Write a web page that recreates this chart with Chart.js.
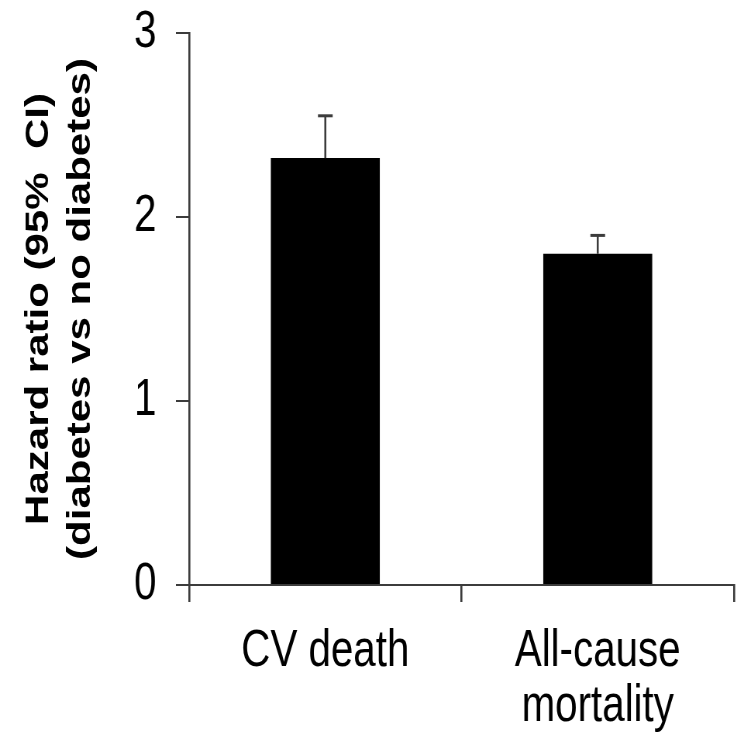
<!DOCTYPE html>
<html>
<head>
<meta charset="utf-8">
<script src="https://cdn.jsdelivr.net/npm/chart.js@4/dist/chart.umd.min.js"></script>
<style>
  html, body { margin: 0; padding: 0; background: #ffffff; overflow: hidden; }
  #wrap { width: 744px; height: 736px; position: relative; }
  /* the reference is a horizontally compressed picture: draw wide, display at 744px */
  #c { width: 744px; height: 736px; display: block; }
</style>
</head>
<body>
<div id="wrap"><canvas id="c" width="960" height="736" style="width:744px;height:736px"></canvas></div>
<script>
// ---- data ----
const categories = ["CV death", ["All-cause", "mortality"]];
const hazardRatio = [2.32, 1.80];
const ciUpper = [2.55, 1.90];
const yTicks = [0, 1, 2, 3];
const yTitle = ["Hazard ratio (95%  CI)", "(diabetes vs no diabetes)"];

const sans = "'Liberation Sans', Arial, Helvetica, sans-serif";
const axisColor = "#3c3c3c";

const errorBars = {
  id: "errorBars",
  afterDatasetsDraw(chart) {
    const ctx = chart.ctx;
    const meta = chart.getDatasetMeta(0);
    const y = chart.scales.y;
    ctx.save();
    ctx.strokeStyle = axisColor;
    meta.data.forEach((bar, i) => {
      const yb = y.getPixelForValue(hazardRatio[i]);
      const yt = y.getPixelForValue(ciUpper[i]);
      ctx.lineWidth = 2.6;
      ctx.beginPath();
      ctx.moveTo(bar.x, yb);
      ctx.lineTo(bar.x, yt);
      ctx.stroke();
      ctx.lineWidth = 3;
      ctx.beginPath();
      ctx.moveTo(bar.x - 9.5, yt);
      ctx.lineTo(bar.x + 9.5, yt);
      ctx.stroke();
    });
    ctx.restore();
  }
};

new Chart(document.getElementById("c"), {
  type: "bar",
  data: {
    labels: categories,
    datasets: [{
      data: hazardRatio,
      backgroundColor: "#000000",
      borderWidth: 0,
      categoryPercentage: 1.0,
      barPercentage: 0.4
    }]
  },
  options: {
    responsive: false,
    maintainAspectRatio: false,
    animation: false,
    devicePixelRatio: 1,
    layout: { padding: { top: 33, right: 13, left: 0, bottom: 0 } },
    plugins: { legend: { display: false }, tooltip: { enabled: false } },
    scales: {
      y: {
        min: 0, max: 3,
        afterBuildTicks(scale) { scale.ticks = yTicks.map(v => ({ value: v })); },
        afterFit(scale) { scale.width = 244; scale.paddingTop = 0; scale.paddingBottom = 0; },
        ticks: {
          color: "#000000",
          padding: 25,
          font: { family: sans, size: 52 }
        },
        grid: { drawOnChartArea: false, tickLength: 17, color: axisColor, lineWidth: 2 },
        border: { color: axisColor, width: 2.6 },
        title: {
          display: true,
          text: yTitle,
          color: "#000000",
          font: { family: sans, size: 42, weight: "bold", lineHeight: 1.27 },
          padding: { top: 24, bottom: 0 }
        }
      },
      x: {
        afterFit(scale) { scale.height = 151; scale.paddingLeft = 0; scale.paddingRight = 0; },
        ticks: {
          color: "#000000",
          padding: 22,
          font: { family: sans, size: 52, lineHeight: 1.06 },
          maxRotation: 0, autoSkip: false
        },
        grid: { offset: true, drawOnChartArea: false, tickLength: 17, color: axisColor, lineWidth: 2.6 },
        border: { color: axisColor, width: 2 }
      }
    }
  },
  plugins: [errorBars]
});
</script>
</body>
</html>
